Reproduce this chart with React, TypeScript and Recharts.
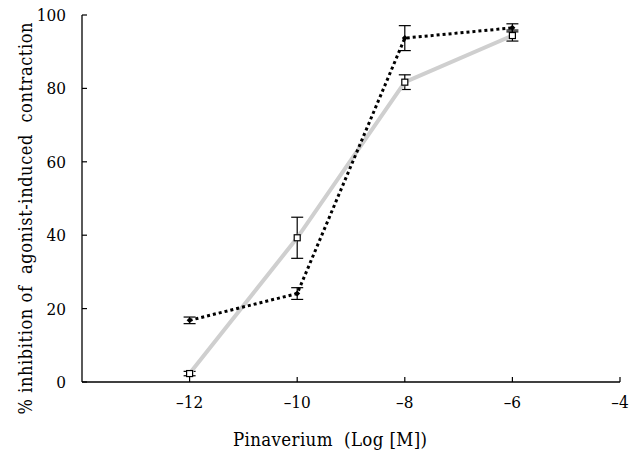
import React from 'react';
import { LineChart, Line, XAxis, YAxis, ErrorBar, Label } from 'recharts';

const doses = [-12, -10, -8, -6];
const grayValues = [2.3, 39.3, 81.7, 94.4];
const grayErrors = [0.6, 5.6, 2.0, 1.5];
const blackValues = [16.8, 24.1, 93.7, 96.5];
const blackErrors = [0.9, 1.6, 3.4, 1.1];
const xTicks = [-12, -10, -8, -6, -4];
const yTicks = [0, 20, 40, 60, 80, 100];

const data = doses.map((d, i) => ({
  x: d,
  gray: grayValues[i],
  grayErr: grayErrors[i],
  black: blackValues[i],
  blackErr: blackErrors[i],
}));

const FONT = "'DejaVu Serif Condensed', 'DejaVu Serif', serif";
const tickStyle = { fill: '#000', fontFamily: FONT, fontSize: 17 };

const SquareDot = (props: any) => {
  const { cx, cy } = props;
  if (cx == null || cy == null) return null;
  return <rect x={cx - 3} y={cy - 3} width={6} height={6} fill="#fff" stroke="#000" strokeWidth={1.2} />;
};

const BlackDot = (props: any) => {
  const { cx, cy } = props;
  if (cx == null || cy == null) return null;
  return <path d={`M${cx},${cy - 3}L${cx + 3},${cy}L${cx},${cy + 3}L${cx - 3},${cy}Z`} fill="#000" />;
};

const YLabel = (props: any) => {
  const vb = props.viewBox || { x: 0, y: 15, width: 82, height: 367 };
  const x = vb.x + 32;
  const y = vb.y + vb.height / 2 + 20;
  return (
    <text
      x={x}
      y={y}
      transform={`rotate(-90, ${x}, ${y})`}
      textAnchor="middle"
      fontSize={18}
      fill="#000"
      fontFamily={FONT}
      textLength={392}
      lengthAdjust="spacing"
      style={{ whiteSpace: 'pre' }}
    >
      {'% inhibition of  agonist-induced  contraction'}
    </text>
  );
};

const XLabel = (props: any) => {
  const vb = props.viewBox || { x: 82, y: 382, width: 538, height: 69 };
  const x = vb.x + vb.width / 2 - 21;
  const y = vb.y + 64;
  return (
    <text
      x={x}
      y={y}
      textAnchor="middle"
      fontSize={18.5}
      fill="#000"
      fontFamily={FONT}
      textLength={194}
      lengthAdjust="spacing"
      style={{ whiteSpace: 'pre' }}
    >
      {'Pinaverium  (Log [M])'}
    </text>
  );
};

export default function App() {
  return (
    <div style={{ position: 'absolute', left: 0, top: 0, background: '#fff' }}>
      <LineChart
        width={629}
        height={451}
        data={data}
        margin={{ top: 15, right: 9, bottom: 0, left: 0 }}
      >
        <XAxis
          dataKey="x"
          type="number"
          domain={[-14, -4]}
          ticks={xTicks}
          tickFormatter={(v: number) => (v < 0 ? '\u2013' + Math.abs(v) : String(v))}
          height={69}
          tickSize={-5}
          tickMargin={19}
          axisLine={{ stroke: '#000', strokeWidth: 1.3 }}
          tickLine={{ stroke: '#000', strokeWidth: 1.2 }}
          tick={tickStyle}
          interval={0}
        >
          <Label content={<XLabel />} />
        </XAxis>
        <YAxis
          type="number"
          domain={[0, 100]}
          ticks={yTicks}
          width={82}
          tickSize={-5}
          tickMargin={21}
          axisLine={{ stroke: '#000', strokeWidth: 1.3 }}
          tickLine={{ stroke: '#000', strokeWidth: 1.2 }}
          tick={tickStyle}
          interval={0}
        >
          <Label content={<YLabel />} />
        </YAxis>
        <Line
          type="linear"
          dataKey="gray"
          stroke="#cfcfcf"
          strokeWidth={4}
          dot={<SquareDot />}
          activeDot={false}
          isAnimationActive={false}
        >
          <ErrorBar dataKey="grayErr" width={6} stroke="#000" strokeWidth={1.2} direction="y" />
        </Line>
        <Line
          type="linear"
          dataKey="black"
          stroke="#000"
          strokeWidth={3}
          strokeDasharray="3 3"
          dot={<BlackDot />}
          activeDot={false}
          isAnimationActive={false}
        >
          <ErrorBar dataKey="blackErr" width={6} stroke="#000" strokeWidth={1.2} direction="y" />
        </Line>
      </LineChart>
    </div>
  );
}
